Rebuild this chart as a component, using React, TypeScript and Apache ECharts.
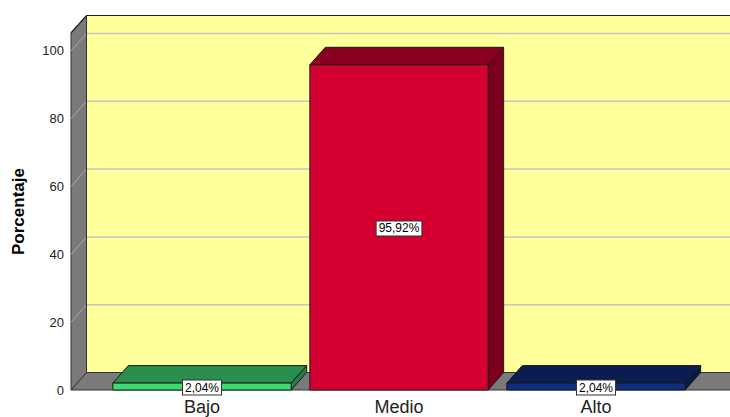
import React, { useEffect, useRef } from "react";
import * as echarts from "echarts";

const categories = ["Bajo", "Medio", "Alto"];
const percentages = [2.04, 95.92, 2.04];
const yTicks = [0, 20, 40, 60, 80, 100];
const frontColors = ["#3DDC71", "#D50032", "#0F2D80"];
const topColors = ["#2A8F4E", "#8A0020", "#0A1C50"];
const sideColors = ["#237F43", "#7C001D", "#091846"];

const DX = 15.5;
const DY = -17.5;
const FONT = '"Liberation Sans", Arial, sans-serif';

export default function App() {
  const ref = useRef<HTMLDivElement>(null);

  useEffect(() => {
    if (!ref.current) return;
    const chart = echarts.init(ref.current, undefined, { renderer: "svg" });

    const option: any = {
      animation: false,
      backgroundColor: "#ffffff",
      grid: { left: 103.5, right: 35.5, top: 33, bottom: 27 },
      xAxis: {
        type: "category",
        data: categories,
        axisLine: { show: false },
        axisTick: { show: false },
        axisLabel: { fontSize: 18, color: "#222", fontFamily: FONT, margin: 8 },
        splitLine: { show: false },
      },
      yAxis: {
        type: "value",
        min: 0,
        max: 105.3,
        interval: 20,
        axisLine: { show: false },
        axisTick: { show: false },
        splitLine: { show: false },
        axisLabel: {
          fontSize: 13,
          color: "#222",
          fontFamily: FONT,
          margin: 39.5,
          formatter: (v: number) => (yTicks.indexOf(v) >= 0 ? String(v) : ""),
        },
      },
      graphic: [
        {
          type: "text",
          x: 18.5,
          y: 211.5,
          rotation: Math.PI / 2,
          style: {
            text: "Porcentaje",
            font: `bold 17px ${FONT}`,
            fill: "#000",
            align: "center",
            verticalAlign: "middle",
          },
        },
      ],
      series: [
        {
          type: "custom",
          z: 1,
          silent: true,
          data: [[0, 0]],
          renderItem: (params: any, api: any) => {
            const cs = params.coordSys;
            const yb = api.coord([0, 0])[1];
            const yt = cs.y;
            const L = cs.x - 32.5;
            const R = api.getWidth() + 2;
            const children: any[] = [];
            children.push({
              type: "rect",
              shape: { x: L + DX, y: yt + DY, width: R - (L + DX), height: yb - yt },
              style: { fill: "#FFFF9C" },
            });
            children.push({
              type: "polygon",
              shape: { points: [[L, yb], [L + DX, yb + DY], [R, yb + DY], [R, yb]] },
              style: { fill: "#7A7A7A", stroke: "#333", lineWidth: 1 },
            });
            children.push({
              type: "polygon",
              shape: { points: [[L, yb], [L, yt], [L + DX, yt + DY], [L + DX, yb + DY]] },
              style: { fill: "#7A7A7A", stroke: "#333", lineWidth: 1 },
            });
            yTicks.forEach((v) => {
              if (v === 0) return;
              const y = api.coord([0, v])[1];
              children.push({
                type: "line",
                shape: { x1: L, y1: y, x2: L + DX, y2: y + DY },
                style: { stroke: "#A8A8A8", lineWidth: 1 },
              });
              children.push({
                type: "line",
                shape: { x1: L + DX, y1: y + DY, x2: R, y2: y + DY },
                style: { stroke: "#C4C4C4", lineWidth: 1.5 },
              });
            });
            children.push({
              type: "polyline",
              shape: { points: [[L, yt], [L + DX, yt + DY], [R, yt + DY]] },
              style: { stroke: "#222", lineWidth: 1.2, fill: "none" },
            });
            children.push({
              type: "line",
              shape: { x1: L + DX, y1: yt + DY, x2: L + DX, y2: yb + DY },
              style: { stroke: "#333", lineWidth: 1 },
            });
            return { type: "group", children };
          },
        },
        {
          type: "custom",
          z: 2,
          data: percentages.map((v, i) => [i, v]),
          renderItem: (params: any, api: any) => {
            const i = api.value(0);
            const v = api.value(1);
            const base = api.coord([i, 0]);
            const top = api.coord([i, v]);
            const bw = api.size([1, 0])[0] * 0.905;
            const l = base[0] - bw / 2;
            const r = base[0] + bw / 2;
            const yT = top[1];
            const yB = base[1];
            const stroke = "#1a1a1a";
            const label = v.toFixed(2).replace(".", ",") + "%";
            return {
              type: "group",
              children: [
                {
                  type: "polygon",
                  shape: { points: [[r, yT], [r + DX, yT + DY], [r + DX, yB + DY], [r, yB]] },
                  style: { fill: sideColors[i], stroke, lineWidth: 1 },
                },
                {
                  type: "polygon",
                  shape: { points: [[l, yT], [l + DX, yT + DY], [r + DX, yT + DY], [r, yT]] },
                  style: { fill: topColors[i], stroke, lineWidth: 1 },
                },
                {
                  type: "rect",
                  shape: { x: l, y: yT, width: bw, height: yB - yT },
                  style: { fill: frontColors[i], stroke, lineWidth: 1 },
                },
                {
                  type: "text",
                  x: base[0],
                  y: (yT + yB) / 2 + 1,
                  z2: 10,
                  style: {
                    text: label,
                    font: `12px ${FONT}`,
                    fill: "#000",
                    align: "center",
                    verticalAlign: "middle",
                    backgroundColor: "#ffffff",
                    borderColor: "#333",
                    borderWidth: 1,
                    padding: [1, 2, 1, 2],
                  },
                },
              ],
            };
          },
        },
      ],
    };

    chart.setOption(option);
    return () => chart.dispose();
  }, []);

  return (
    <div
      ref={ref}
      style={{ position: "fixed", left: 0, top: 0, width: 730, height: 417 }}
    />
  );
}
